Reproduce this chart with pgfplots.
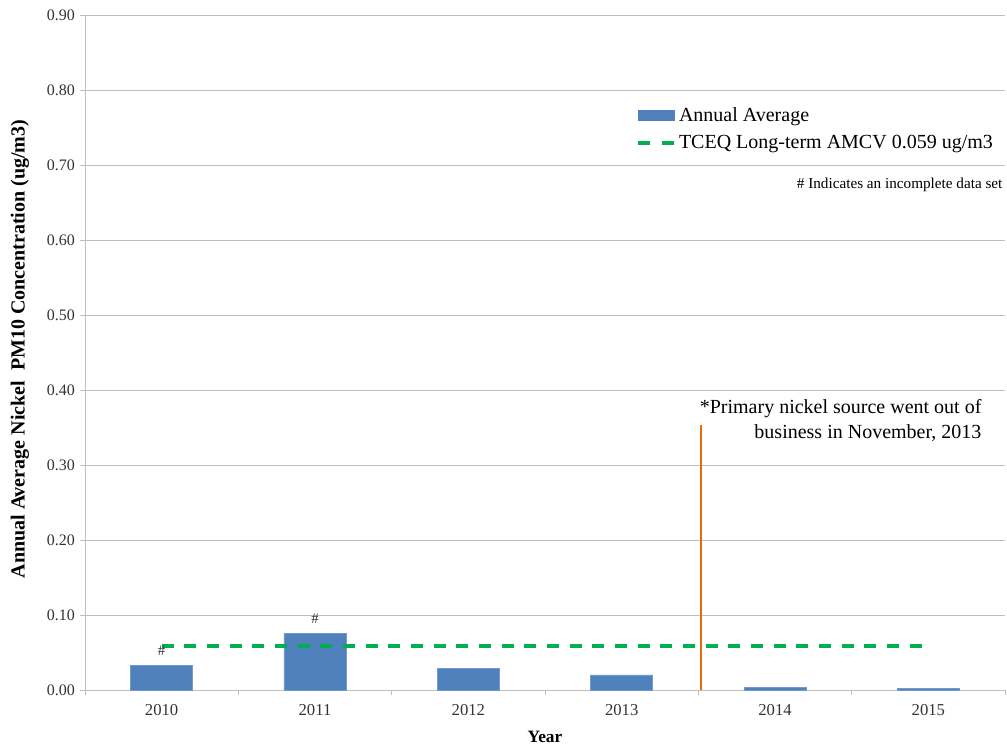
\documentclass[border=0pt]{standalone}
\usepackage{pgfplots}
\pgfplotsset{compat=1.18}
\usepackage{fontspec}
\setmainfont{Liberation Serif}
\definecolor{barblue}{HTML}{4F81BD}
\definecolor{lgreen}{HTML}{00B050}
\definecolor{lorange}{HTML}{E46C0A}
\definecolor{gridgray}{HTML}{BFBFBF}
\begin{document}
\begin{tikzpicture}[x=1pt,y=1pt]
\useasboundingbox (-63.75,-41.25) rectangle (691.5,517.5);
\begin{axis}[
  at={(0,0)}, anchor=south west,
  scale only axis,
  width=690pt, height=506.25pt,
  xmin=-0.5, xmax=5.5,
  ymin=0, ymax=0.9,
  ytick={0,0.1,0.2,0.3,0.4,0.5,0.6,0.7,0.8,0.9},
  /pgf/number format/assume math mode=true,
  /pgf/number format/fixed, /pgf/number format/fixed zerofill, /pgf/number format/precision=2,
  yticklabel style={font=\fontsize{12}{14}\selectfont, text=black!80},
  xtick={0,1,2,3,4,5},
  xticklabels={2010,2011,2012,2013,2014,2015},
  xticklabel style={font=\fontsize{12.5}{14}\selectfont, text=black!80, yshift=-3pt},
  minor xtick={-0.5,0.5,1.5,2.5,3.5,4.5,5.5},
  xtick style={draw=none},
  minor x tick style={draw=gridgray, thin},
  minor tick length=4pt,
  ytick style={draw=gridgray, thin},
  major tick length=4pt,
  tick align=outside,
  axis x line*=bottom, axis y line*=left,
  axis line style={draw=gridgray, thin},
  ymajorgrids,
  grid style={draw=gridgray, thin},
  xlabel={\textbf{Year}},
  xlabel style={font=\fontsize{13}{15}\selectfont, at={(axis description cs:0.5,0)}, anchor=center, yshift=-35.5pt},
  ylabel={\textbf{Annual Average Nickel\ \ PM10 Concentration (ug/m3)}},
  ylabel style={font=\fontsize{15}{17}\selectfont, at={(axis description cs:-0.0707,0.505)}, anchor=center},
  legend style={draw=none, fill=none, inner xsep=0pt, at={(rel axis cs:0.599,0.831)}, anchor=west, font=\fontsize{15}{18}\selectfont, row sep=5pt, cells={anchor=west}},
  clip=false,
]
\addplot[ybar, bar width=46.5pt, fill=barblue, draw=barblue!80!white,
  legend image code/.code={\fill[barblue] (0pt,-3.75pt) rectangle (27pt,3.75pt);}]
  coordinates {(0,0.033) (1,0.075) (2,0.029) (3,0.020) (4,0.003) (5,0.002)};
\addlegendentry{Annual Average}
\addplot[lgreen, line width=3pt, dash pattern=on 9pt off 8pt,
  legend image code/.code={\draw[lgreen, line width=3pt, dash pattern=on 9pt off 9pt] (0pt,0pt) -- (27pt,0pt);}]
  coordinates {(0,0.059) (5,0.059)};
\addlegendentry{TCEQ Long-term AMCV 0.059 ug/m3}
\addplot[lorange, line width=1.5pt, forget plot] coordinates {(3.52,0) (3.52,0.353)};
\node[font=\fontsize{11}{12}\selectfont, text=black!80] at (axis cs:0,0.053) {\#};
\node[font=\fontsize{11}{12}\selectfont, text=black!80] at (axis cs:1,0.095) {\#};
\node[font=\fontsize{11.4}{13}\selectfont, anchor=east, inner sep=0pt] at (axis cs:5.485,0.673) {\# Indicates an incomplete data set};
\node[font=\fontsize{15}{18.75}\selectfont, anchor=east, align=right, inner sep=0pt] at (axis cs:5.348,0.359) {*Primary nickel source went out of\\business in November, 2013};
\end{axis}
\end{tikzpicture}
\end{document}
